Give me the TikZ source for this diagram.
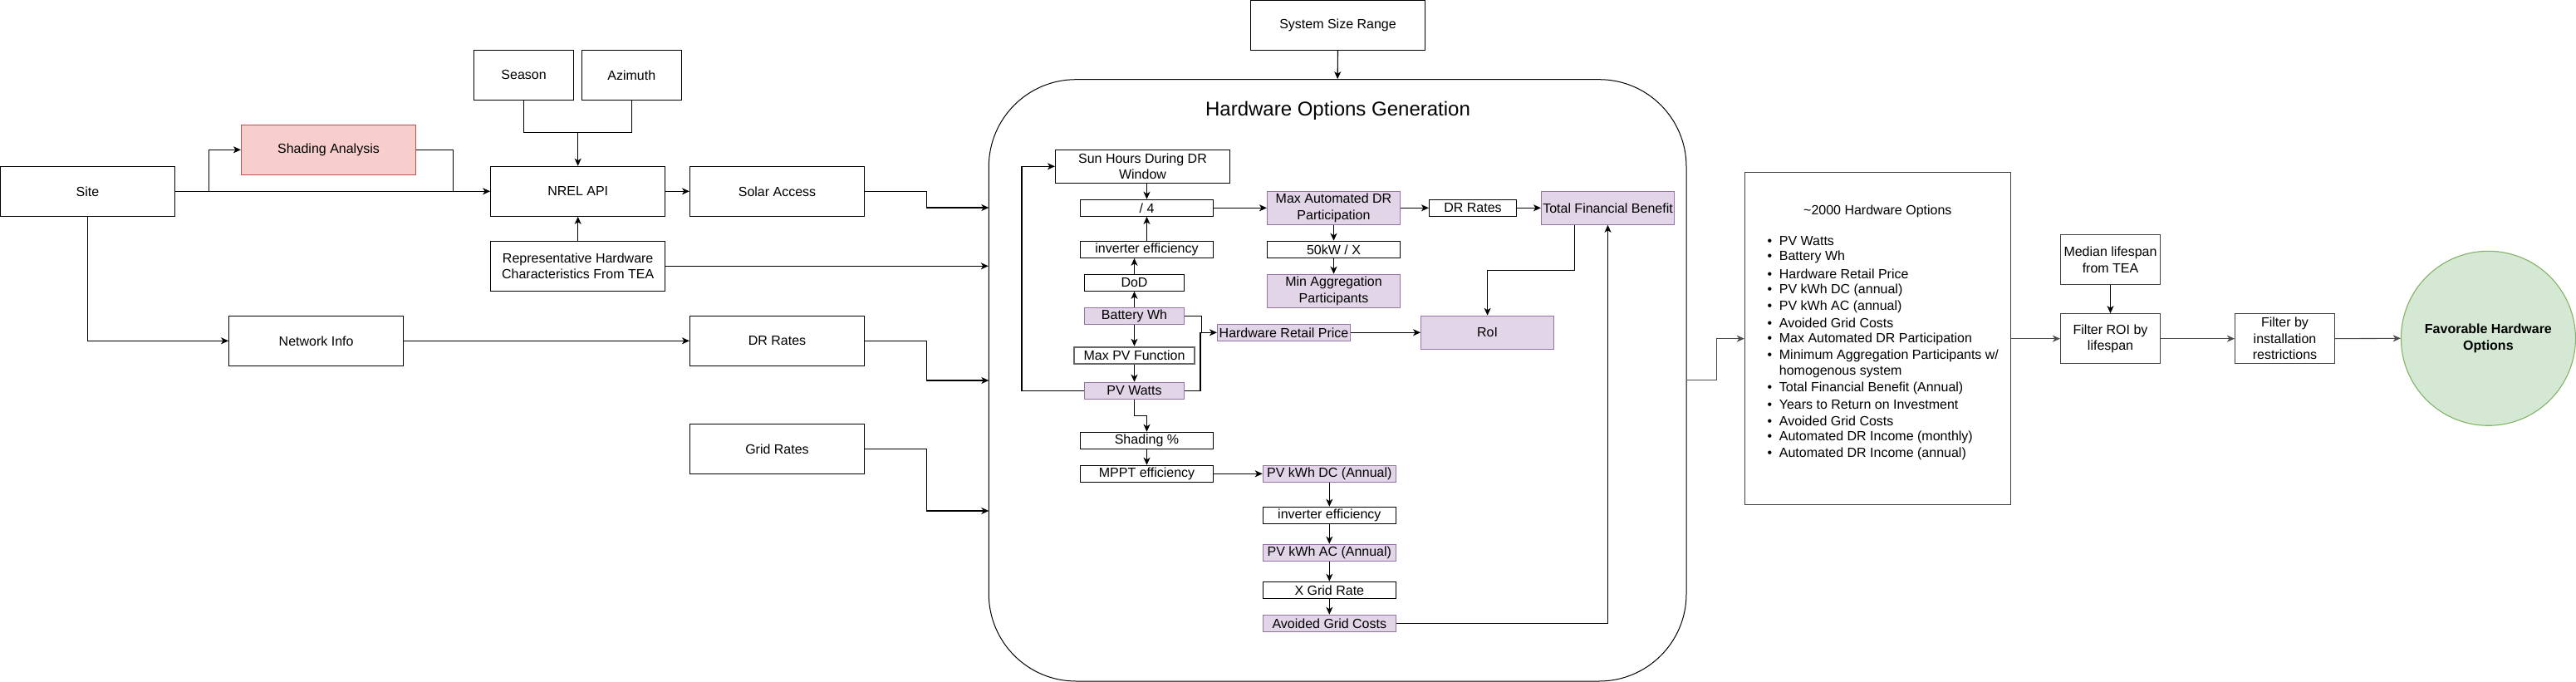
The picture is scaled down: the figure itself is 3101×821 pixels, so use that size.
\documentclass[tikz,border=0pt]{standalone}
\usepackage{fontspec}
\setmainfont{Liberation Sans}
\usepackage{xcolor}
\usepackage{tikz}
\usetikzlibrary{arrows.meta}
\definecolor{resfill}{HTML}{E1D5E7}
\definecolor{resdraw}{HTML}{9673A6}
\definecolor{shdfill}{HTML}{F8CECC}
\definecolor{shddraw}{HTML}{B85450}
\definecolor{favfill}{HTML}{D5E8D4}
\definecolor{favdraw}{HTML}{82B366}
\tikzset{
base/.style={
  draw,
  rectangle,
  inner sep=0pt,
  align=center,
  font=\fontsize{16}{19.5}\selectfont
},
outer/.style={base,minimum width=210pt,minimum height=60pt},
small/.style={base,minimum width=120pt,minimum height=60pt},
calc/.style={base,minimum width=160pt,minimum height=20pt},
result/.style={calc,fill=resfill,draw=resdraw},
item/.style={inner sep=0pt,font=\fontsize{16}{19.5}\selectfont},
arr/.style={-{Stealth[length=9pt,width=8pt,inset=2.5pt]}},
%gray/.style={draw=black!70},
}

\begin{document}
\begin{tikzpicture}[x=1pt,y=-1pt,line width=1.1pt]
\useasboundingbox (0,0) rectangle (3101,821);
% the input boxes
\node[outer] (site) at (105.5,230.3) {Site};
\node[outer,fill=shdfill,draw=shddraw] (shade) at (395.5,180.3) {Shading Analysis};
\node[small] (season) at (630.6,90.3) {Season};
\node[small] (azimuth) at (760.3,90.3) {Azimuth};
\node[outer] (nrel) at (695.7,230.3) {NREL API};
\node[outer] (rep) at (695.7,320.3) {Representative Hardware\\Characteristics From TEA};
\node[outer] (netinfo) at (380.6,410.3) {Network Info};
\node[outer] (solar) at (935.5,230.3) {Solar Access};
\node[outer] (drrates) at (935.5,410.3) {DR Rates};
\node[outer] (gridrates) at (935.5,540.3) {Grid Rates};
\node[outer] (sysrange) at (1610.5,30.2) {System Size Range};
% the generation box
\node[draw,rounded corners=105pt,minimum width=839.7pt,minimum height=724.3pt,line width=1pt] (hog) at (1610.15,457.85) {};
\node[item,font=\fontsize{24}{28}\selectfont] (hogtitle) at (1610.5,133) {Hardware Options Generation};
\coordinate (in1) at (1190.3,250);
\coordinate (in3) at (1190.3,458);
\coordinate (in4) at (1190.3,615);
% the inner steps
\node[calc,minimum width=210pt,minimum height=40pt] (sun) at (1375.5,200.3) {Sun Hours During DR\\Window};
\node[calc] (div4) at (1380.5,250.3) {/ 4};
\node[calc] (inv1) at (1380.5,300.3) {inverter efficiency};
\node[calc,minimum width=120pt] (dod) at (1365.5,340.3) {DoD};
\node[result,minimum width=120pt] (batt) at (1365.5,380.3) {Battery Wh};
\node[calc,minimum width=145pt,draw=black!60,line width=2pt] (maxpv) at (1365.5,427.7) {Max PV Function};
\node[result,minimum width=120pt] (pvw) at (1365.5,470.3) {PV Watts};
\node[calc] (shd) at (1380.5,530.3) {Shading \%};
\node[calc] (mppt) at (1380.5,570.3) {MPPT efficiency};
\node[result] (hrp) at (1545.5,400.3) {Hardware Retail Price};
\node[result,minimum height=40pt] (maxadr) at (1605.5,250.3) {Max Automated DR\\Participation};
\node[calc] (kw) at (1605.5,300.3) {50kW / X};
\node[result,minimum height=40pt] (minagg) at (1605.5,350.3) {Min Aggregation\\Participants};
\node[calc,minimum width=105pt] (drin) at (1773,250.3) {DR Rates};
\node[result,minimum height=40pt] (tfb) at (1935.5,250.3) {Total Financial Benefit};
\node[result,minimum height=40pt] (roi) at (1790.6,400.3) {RoI};
\node[result] (dc) at (1600.3,570.3) {PV kWh DC (Annual)};
\node[calc] (inv2) at (1600.3,620.3) {inverter efficiency};
\node[result] (ac) at (1600.3,665.3) {PV kWh AC (Annual)};
\node[calc] (xgr) at (1600.3,710.3) {X Grid Rate};
\node[result] (agc) at (1600.3,750.3) {Avoided Grid Costs};
% the output side
\node[base,minimum width=320pt,minimum height=400pt,draw=black!75] (hwopt) at (2260.3,407.7) {};
\node[item] (hwtitle) at (2260.3,254.3) {\textasciitilde 2000 Hardware Options};
\foreach \t [count=\i] in {PV Watts,Battery Wh,Hardware Retail Price,PV kWh DC (annual),PV kWh AC (annual),Avoided Grid Costs,Max Automated DR Participation,{Minimum Aggregation Participants w/},homogenous system,Total Financial Benefit (Annual),Years to Return on Investment,Avoided Grid Costs,Automated DR Income (monthly),Automated DR Income (annual)}
{
  \node[item,anchor=west] (opt\i) at (2141.3,{290+19.72*(\i-1)}) {\t};
}
\foreach \i in {1,2,3,4,5,6,7,8,10,11,12,13,14}
{
  \node[item,anchor=base] at ([xshift=-11pt]opt\i.base west) {\textbullet};
}
\node[small,draw=black!75] (median) at (2540.5,312.7) {Median lifespan\\from TEA};
\node[small,draw=black!75] (froi) at (2540.5,407.7) {Filter ROI by\\lifespan};
\node[small,draw=black!75] (finst) at (2750.5,407.7) {Filter by\\installation\\restrictions};
\node[circle,draw=favdraw,fill=favfill,minimum size=210pt,inner sep=0pt,align=center,font=\fontsize{16}{19.5}\selectfont\bfseries] (fav) at (2995.4,407.3) {Favorable Hardware\\Options};
% the arrows
\draw[arr] (site.east) -- (nrel.west);
\draw[arr] ([xshift=40pt]site.east) |- (shade.west);
\draw (shade.east) -| ([xshift=-45pt]nrel.west);
\draw (season.south) |- ([yshift=40pt]nrel.north);
\draw (azimuth.south) |- ([yshift=40pt]nrel.north);
\draw[arr] ([yshift=40pt]nrel.north) -- (nrel.north);
\draw[arr] (rep.north) -- (nrel.south);
\draw[arr] (nrel.east) -- (solar.west);
\draw[arr] (site.south) |- (netinfo.west);
\draw[arr] (netinfo.east) -- (drrates.west);
\draw[arr] (solar.east) -- ++(74.8,0) |- (in1);
\draw[arr] (rep.east) -- (rep.east -| hog.west);
\draw[arr] (drrates.east) -- ++(74.8,0) |- (in3);
\draw[arr] (gridrates.east) -- ++(74.8,0) |- (in4);
\draw[arr] (sysrange.south) -- (hog.north);
% inside the generation box
\draw[arr] (sun.south -| div4.north) -- (div4.north);
\draw[arr] (inv1.north) -- (div4.south);
\draw[arr] (dod.north) -- (dod.north |- inv1.south);
\draw[arr] (batt.north) -- (dod.south);
\draw[arr] (batt.south) -- (maxpv.north);
\draw[arr] (maxpv.south) -- (pvw.north);
\draw[arr] (batt.east) -- ++(20,0) |- (hrp.west);
\draw (pvw.east) -| ([xshift=-20pt]hrp.west);
\draw[arr] (pvw.west) -- ++(-75,0) |- (sun.west);
\draw[arr] (pvw.south) -- ++(0,20) -| (shd.north);
\draw[arr] (shd.south) -- (mppt.north);
\draw[arr] (mppt.east) -- (dc.west);
\draw[arr] (dc.south) -- (inv2.north);
\draw[arr] (inv2.south) -- (ac.north);
\draw[arr] (ac.south) -- (xgr.north);
\draw[arr] (xgr.south) -- (agc.north);
\draw[arr] (agc.east) -| (tfb.south);
\draw[arr] (div4.east) -- (maxadr.west);
\draw[arr] (maxadr.south) -- (kw.north);
\draw[arr] (kw.south) -- (minagg.north);
\draw[arr] (maxadr.east) -- (drin.west);
\draw[arr] (drin.east) -- (tfb.west);
\draw[arr] ([xshift=-40pt]tfb.south) -- ++(0,55) -| (roi.north);
\draw[arr] (hrp.east) -- (roi.west);
% the output arrows
\draw[arr,draw=black!70] (hog.east) -- ++(35.6,0) |- (hwopt.west);
\draw[arr,draw=black!70] (hwopt.east) -- (froi.west);
\draw[arr] (median.south) -- (froi.north);
\draw[arr,draw=black!70] (froi.east) -- (finst.west);
\draw[arr,draw=black!70] (finst.east) -- (fav.west);
\end{tikzpicture}
\end{document}
